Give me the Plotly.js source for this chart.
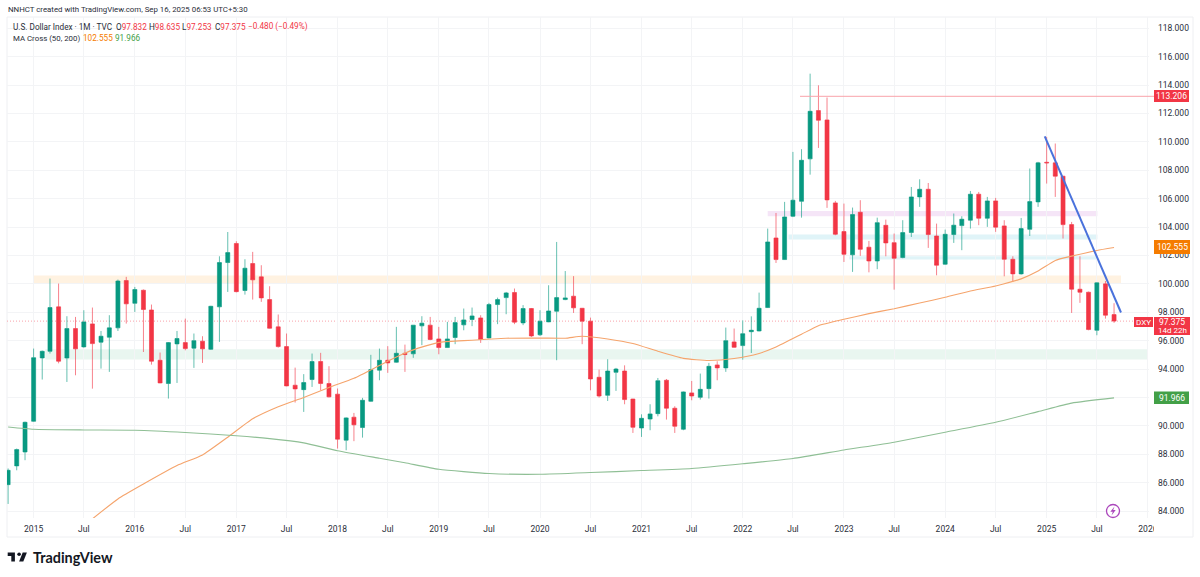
<!DOCTYPE html>
<html><head><meta charset="utf-8">
<script src="https://cdn.plot.ly/plotly-3.0.1.min.js"></script>
<style>html,body{margin:0;padding:0;background:#fff}#c{width:1200px;height:577px}</style></head>
<body><div id="c"></div>
<script>
const months=["2014-10","2014-11","2014-12",
"2015-01","2015-02","2015-03","2015-04","2015-05","2015-06","2015-07","2015-08","2015-09","2015-10","2015-11","2015-12",
"2016-01","2016-02","2016-03","2016-04","2016-05","2016-06","2016-07","2016-08","2016-09","2016-10","2016-11","2016-12",
"2017-01","2017-02","2017-03","2017-04","2017-05","2017-06","2017-07","2017-08","2017-09","2017-10","2017-11","2017-12",
"2018-01","2018-02","2018-03","2018-04","2018-05","2018-06","2018-07","2018-08","2018-09","2018-10","2018-11","2018-12",
"2019-01","2019-02","2019-03","2019-04","2019-05","2019-06","2019-07","2019-08","2019-09","2019-10","2019-11","2019-12",
"2020-01","2020-02","2020-03","2020-04","2020-05","2020-06","2020-07","2020-08","2020-09","2020-10","2020-11","2020-12",
"2021-01","2021-02","2021-03","2021-04","2021-05","2021-06","2021-07","2021-08","2021-09","2021-10","2021-11","2021-12",
"2022-01","2022-02","2022-03","2022-04","2022-05","2022-06","2022-07","2022-08","2022-09","2022-10","2022-11","2022-12",
"2023-01","2023-02","2023-03","2023-04","2023-05","2023-06","2023-07","2023-08","2023-09","2023-10","2023-11","2023-12",
"2024-01","2024-02","2024-03","2024-04","2024-05","2024-06","2024-07","2024-08","2024-09","2024-10","2024-11","2024-12",
"2025-01","2025-02","2025-03","2025-04","2025-05","2025-06","2025-07","2025-08","2025-09"];
const open=[85.86,87.18,88.16,
90.32,94.78,95.25,98.38,94.78,96.85,95.56,97.18,95.89,96.24,96.9,100.23,
98.63,99.55,98.16,94.62,92.98,95.77,95.86,95.47,95.96,95.39,98.38,101.5,
102.84,99.53,101.43,100.49,98.89,96.97,95.58,92.86,92.55,93.26,94.53,92.98,
92.23,88.99,90.61,89.88,91.73,93.92,94.62,94.48,95.11,95.07,97.04,97.09,
96.12,95.51,96.22,97.11,97.49,97.6,96.19,98.54,99.03,99.39,97.25,98.26,
96.41,97.32,98.07,98.89,99.13,98.28,97.37,93.42,92.15,93.77,93.86,91.89,
89.85,90.48,90.86,93.21,91.24,89.76,92.32,92.01,92.62,94.29,94.08,95.91,
95.65,96.63,96.68,98.33,103.23,101.71,104.76,105.81,108.8,112.2,111.54,105.7,
103.68,102.04,105.04,102.58,101.61,104.12,102.9,101.85,103.61,106.12,106.66,103.37,
101.38,103.47,104.1,104.48,106.31,104.62,105.84,104.08,101.73,100.7,103.84,105.77,
108.56,108.52,107.58,104.17,99.62,99.41,96.73,100.0,97.832];
const high=[87.0,88.4,90.3,
95.44,95.3,100.37,100.02,97.72,97.67,98.14,98.33,96.68,97.79,100.3,100.49,
99.78,99.6,98.54,95.16,95.9,96.68,97.55,96.5,96.31,98.45,101.94,103.65,
103.0,101.73,102.25,101.31,99.83,97.84,96.5,94.1,93.64,95.09,95.14,94.2,
92.63,90.6,90.91,91.97,95.0,95.44,95.61,96.97,95.72,97.09,97.72,97.67,
96.97,97.32,97.67,98.26,98.33,97.79,98.66,99.03,99.43,99.67,98.5,98.3,
98.14,99.9,102.95,100.9,100.54,98.3,97.62,93.96,94.69,94.08,94.26,91.9,
90.81,91.52,93.37,93.3,91.38,92.42,93.16,93.68,94.43,94.55,96.92,96.85,
97.43,97.71,99.38,103.89,104.99,105.77,109.29,109.48,114.8,113.98,113.12,105.84,
105.65,105.37,105.89,103.02,104.66,104.52,103.54,104.48,106.82,107.36,107.1,104.24,
103.82,104.95,104.76,106.54,106.47,106.12,106.05,104.48,101.94,104.64,108.12,108.59,
110.35,109.88,107.6,104.36,101.94,99.45,100.1,100.2,98.635];
const low=[84.5,86.87,87.58,
90.3,93.26,95.09,94.4,93.09,93.56,95.51,92.62,94.03,93.8,96.68,97.2,
98.02,95.2,94.31,93.0,91.92,93.02,95.32,94.08,94.43,95.35,95.91,99.43,
99.4,99.24,98.89,98.73,96.85,95.51,92.79,91.64,90.98,92.74,92.5,92.0,
88.4,88.28,88.92,89.17,91.7,93.21,93.73,94.45,93.8,94.79,95.68,96.03,
95.04,95.5,95.75,96.73,97.02,95.84,96.15,97.16,97.86,97.16,97.09,96.26,
96.33,97.3,94.62,98.85,97.95,95.75,92.5,91.99,91.75,92.46,91.52,89.5,
89.22,89.69,90.67,90.44,89.5,89.69,91.8,91.85,91.92,93.21,93.8,95.5,
94.66,95.13,96.65,98.3,101.47,101.7,104.7,104.66,107.69,109.57,105.35,103.42,
101.54,100.84,101.97,100.81,101.03,101.94,99.59,101.8,103.3,105.42,102.53,100.6,
101.35,102.88,102.37,103.89,104.13,104.01,103.66,100.53,100.13,100.65,103.37,105.42,
107.06,106.12,103.19,97.95,98.66,96.73,96.38,97.55,97.253];
const close=[86.87,88.33,90.25,
94.8,95.25,98.33,94.55,96.85,95.42,97.32,95.79,96.31,96.9,100.2,98.59,
99.6,98.19,94.55,93.02,95.86,96.15,95.44,96.0,95.42,98.42,101.5,102.2,
99.45,101.1,100.28,99.01,96.87,95.58,92.81,92.6,93.05,94.53,92.98,92.04,
89.06,90.56,90.07,91.8,93.96,94.62,94.43,95.11,95.02,97.09,97.23,96.08,
95.51,96.12,97.27,97.46,97.74,96.08,98.54,98.89,99.36,97.3,98.26,96.33,
97.37,98.09,99.03,99.01,98.31,97.37,93.3,92.1,93.86,94.0,91.85,89.9,
90.53,90.84,93.18,91.24,89.97,92.39,92.1,92.57,94.19,94.08,96.0,95.53,
96.49,96.73,98.28,102.95,101.71,104.71,105.89,108.7,112.15,111.52,105.91,103.49,
102.08,104.88,102.43,101.61,104.31,102.88,101.8,103.61,106.12,106.66,103.47,101.31,
103.49,104.13,104.55,106.31,104.62,105.84,103.99,101.73,100.7,103.89,105.79,108.52,
108.52,107.58,104.17,99.62,99.41,96.78,100.07,97.79,97.375];

const ma50Dates=["2015-08","2015-11","2016-02","2016-06","2016-09","2016-12","2017-03","2017-06","2017-09","2017-12","2018-03","2018-06","2018-08","2018-10","2019-01","2019-04","2019-09","2020-01","2020-04","2020-06","2020-09","2020-12","2021-03","2021-06","2021-09","2021-12","2022-03","2022-05","2022-08","2022-10","2023-01","2023-04","2023-07","2023-10","2024-01","2024-04","2024-07","2024-10","2024-12","2025-02","2025-04","2025-07","2025-09"];
const ma50Values=[83.45,84.85,85.9,87.2,87.95,89.2,90.5,91.35,92.0,92.7,93.35,94.25,94.85,95.35,95.88,96.0,96.17,96.18,96.17,96.31,96.12,95.8,95.25,94.75,94.6,94.74,95.1,95.55,96.45,97.05,97.5,97.9,98.25,98.65,99.05,99.5,99.85,100.35,100.9,101.65,101.95,102.35,102.555];
const ma200Dates=["2014-10","2015-01","2015-07","2016-01","2016-07","2017-01","2017-05","2017-09","2018-01","2018-06","2018-09","2019-01","2019-07","2020-01","2020-07","2021-01","2021-07","2022-01","2022-07","2023-01","2023-07","2024-01","2024-07","2024-12","2025-04","2025-09"];
const ma200Values=[89.92,89.76,89.71,89.69,89.53,89.3,89.1,88.8,88.25,87.72,87.4,86.94,86.64,86.59,86.71,86.85,87.0,87.33,87.7,88.3,88.85,89.55,90.25,91.0,91.6,91.966];

const trendDates=["2024-12-25","2025-09-26"];
const trendValues=[110.39,97.98];

const zoneNames=["supply","demand","purple","cyanHigh","cyanLow"];
const zoneStart=["2015-01-01","2015-02-12","2022-04-01","2022-06-15","2023-01-20"];
const zoneEnd=["2025-09-26","2025-12-30","2025-07-03","2025-07-03","2025-07-03"];
const zoneTop=[100.58,95.4,105.13,103.47,101.94];
const zoneBottom=[100.06,94.67,104.76,103.12,101.71];
const zoneColors=["#FFF2E1","#E9F6F0","#F5E5F7","#E0F4F8","#E0F4F8"];

const yTicks=[84,86,88,90,92,94,96,98,100,102,104,106,108,110,112,114,116,118];
const xTickDates=["2015-01-01","2015-07-01","2016-01-01","2016-07-01","2017-01-01","2017-07-01","2018-01-01","2018-07-01","2019-01-01","2019-07-01","2020-01-01","2020-07-01","2021-01-01","2021-07-01","2022-01-01","2022-07-01","2023-01-01","2023-07-01","2024-01-01","2024-07-01","2025-01-01","2025-07-01","2026-01-01"];
const xTickLabels=["2015","Jul","2016","Jul","2017","Jul","2018","Jul","2019","Jul","2020","Jul","2021","Jul","2022","Jul","2023","Jul","2024","Jul","2025","Jul","2026"];

const L=7,R=1149,T=17,B=518,W=R-L,H=B-T;
const px=x=>(x-L)/W, py=y=>(B-y)/H;
const FONT='Roboto, sans-serif';
const RED='#F23645',GRN='#089981';

function txt(x,y,text,opt){opt=opt||{};
 return {xref:'paper',yref:'paper',x:px(x),y:py(y),text:text,showarrow:false,xanchor:opt.xa||'left',yanchor:'middle',
  align:opt.al||'left',font:{family:opt.fam||FONT,size:opt.size||8.2,color:opt.color||'#2A2E39',weight:opt.w||400},
  borderpad:0};}
function rect(x0,y0,x1,y1,o){return Object.assign({type:'rect',xref:'paper',yref:'paper',x0:px(x0),x1:px(x1),y0:py(y0),y1:py(y1),line:{width:0}},o);}
function poly(pts,color){return {type:'path',xref:'paper',yref:'paper',fillcolor:color,line:{width:0},layer:'above',
  path:'M'+pts.map(p=>px(p[0]).toFixed(5)+','+py(p[1]).toFixed(5)).join('L')+'Z'};}

const shapes=[];
zoneNames.forEach((n,i)=>shapes.push({type:'rect',xref:'x',yref:'y',x0:zoneStart[i],x1:zoneEnd[i],y0:zoneBottom[i],y1:zoneTop[i],fillcolor:zoneColors[i],line:{width:0},layer:'below'}));
// frame
shapes.push(rect(7,17,1193,537,{line:{width:1,color:'#EEEFF2'},fillcolor:'rgba(0,0,0,0)',layer:'below'}));
// resistance line and last price line
shapes.push({type:'line',xref:'paper',yref:'y',x0:px(800),x1:px(1154),y0:113.206,y1:113.206,line:{width:1,color:'#F9A3AB'},layer:'above'});
shapes.push({type:'line',xref:'paper',yref:'y',x0:0,x1:px(1134),y0:97.375,y1:97.375,line:{width:1,color:'#F9A3AB',dash:'1px,2px'},layer:'below'});
// clip of the clipped 2026 label
shapes.push(rect(1154,520,1175,535,{fillcolor:'#fff',layer:'above'}));
// label backgrounds
shapes.push(rect(1154,90,1189,102,{fillcolor:RED,layer:'above'}));
shapes.push(rect(1154,240,1190,254,{fillcolor:'#F57C00',layer:'above'}));
shapes.push(rect(1154,391.5,1189,404,{fillcolor:'#43A047',layer:'above'}));
shapes.push(rect(1134,317,1153,327,{fillcolor:RED,layer:'above'}));
shapes.push(rect(1154,317,1190,335,{fillcolor:RED,layer:'above'}));
// lightning badge
shapes.push({type:'circle',xref:'paper',yref:'paper',x0:px(1106.5),x1:px(1119.5),y0:py(517.5),y1:py(504.5),line:{width:1.3,color:'#AB47BC'},fillcolor:'#fff',layer:'above'});
shapes.push(poly([[1114.5,506.5],[1110.3,511.8],[1112.8,511.8],[1111.5,515.5],[1115.7,510],[1113.2,510]],'#AB47BC'));
// TradingView logo
const lx=u=>7.7+(u-2)*0.6, ly=v=>552.5+(v-6)*0.6;
const lg=a=>a.map(p=>[lx(p[0]),ly(p[1])]);
shapes.push(poly(lg([[2,6],[14,6],[14,21],[8,21],[8,12],[2,12]]),'#131722'));
shapes.push(poly(lg([[27,6],[34,6],[28,21],[21,21]]),'#131722'));
shapes.push({type:'circle',xref:'paper',yref:'paper',layer:'above',x0:px(lx(18)),x1:px(lx(24)),y0:py(ly(12)),y1:py(ly(6)),fillcolor:'#131722',line:{width:0}});

const annotations=[
 txt(7,9,'NNHCT created with TradingView.com, Sep 16, 2025 06:53 UTC+5:30',{size:7.85}),
 txt(12,27,'U.S. Dollar Index · 1M · TVC'),
 txt(115,27,'O<span style="color:#F23645">97.832</span>'),
 txt(148,27,'H<span style="color:#F23645">98.635</span>'),
 txt(181,27,'L<span style="color:#F23645">97.253</span>'),
 txt(214,27,'C<span style="color:#F23645">97.375</span>'),
 txt(247,27,'−0.480 (−0.49%)',{color:RED}),
 txt(12,38,'MA Cross (50, 200)',{size:7.85}),
 txt(82,38,'102.555',{color:'#F57C00'}),
 txt(114,38,'91.966',{color:'#43A047'}),
 txt(1171.5,96,'113.206',{xa:'center',color:'#fff',size:8.5}),
 txt(1172,247,'102.555',{xa:'center',color:'#fff',size:8.5}),
 txt(1171.5,398,'91.966',{xa:'center',color:'#fff',size:8.5}),
 txt(1143.5,322,'DXY',{xa:'center',color:'#fff',size:8}),
 txt(1172,321.5,'97.375',{xa:'center',color:'#fff',size:8.5}),
 txt(1172,330.5,'14d 22h',{xa:'center',color:'#fff',size:8}),
 txt(32,557,'TradingView',{fam:'Lato, sans-serif',size:14.4,color:'#131722',w:700})
];

const traces=[
 {type:'candlestick',x:months,open:open,high:high,low:low,close:close,
  increasing:{line:{color:'rgba(8,153,129,0.62)',width:1},fillcolor:GRN},
  decreasing:{line:{color:'rgba(242,54,69,0.62)',width:1},fillcolor:RED},whiskerwidth:0,hoverinfo:'none'},
 {type:'scatter',mode:'lines',x:ma50Dates,y:ma50Values,line:{color:'#F5A46C',width:1.1,shape:'spline',smoothing:0.5},hoverinfo:'none'},
 {type:'scatter',mode:'lines',x:ma200Dates,y:ma200Values,line:{color:'#8FBF95',width:1.1,shape:'spline',smoothing:0.5},hoverinfo:'none'},
 {type:'scatter',mode:'lines',x:trendDates,y:trendValues,line:{color:'#4A72DC',width:2},hoverinfo:'none'}
];

const layout={width:1200,height:577,margin:{l:L,r:1200-R,t:T,b:577-B,pad:0},
 paper_bgcolor:'#fff',plot_bgcolor:'#fff',showlegend:false,boxgap:0.26,
 font:{family:FONT,size:8.5,color:'#2A2E39'},
 xaxis:{type:'date',range:['2014-09-27','2026-01-05'],rangeslider:{visible:false},tickmode:'array',tickvals:xTickDates,ticktext:xTickLabels,
  showgrid:true,gridcolor:'#F3F4F6',gridwidth:1,zeroline:false,showline:false,ticks:'',tickfont:{size:8.5,family:FONT,color:'#2A2E39'},tickangle:0,ticklabelstandoff:4},
 yaxis:{side:'right',range:[83.51,118.79],tickmode:'array',tickvals:yTicks,tickformat:'.3f',showgrid:true,gridcolor:'#F3F4F6',gridwidth:1,zeroline:false,
  showline:false,ticks:'',tickfont:{size:8.5,family:FONT,color:'#2A2E39'},ticklabelstandoff:8},
 shapes:shapes,annotations:annotations};
Plotly.newPlot('c',traces,layout,{displayModeBar:false,staticPlot:true});
</script></body></html>
